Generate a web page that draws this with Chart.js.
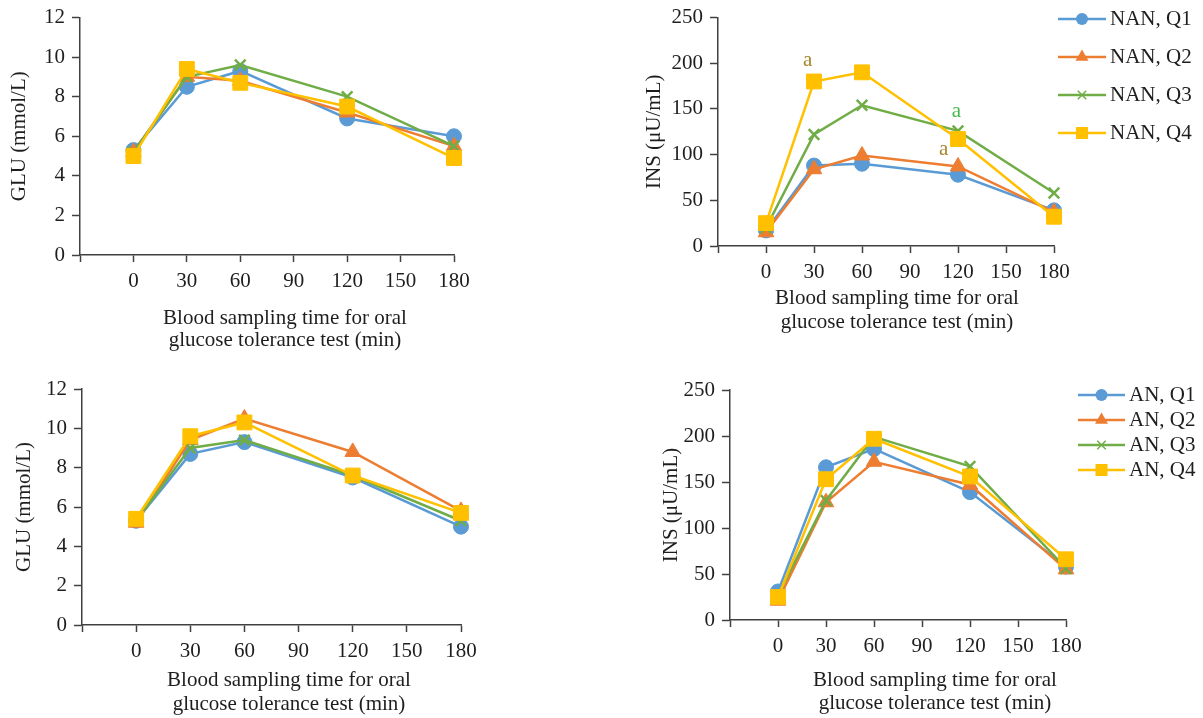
<!DOCTYPE html>
<html><head><meta charset="utf-8">
<script src="https://cdn.jsdelivr.net/npm/chart.js@4.4.0/dist/chart.umd.min.js"></script>
<style>
html,body{margin:0;padding:0;background:#fff;}
#wrap{position:relative;width:1203px;height:718px;overflow:hidden;background:#fff;}
canvas{position:absolute;}
</style></head><body><div id="wrap">
<canvas id="c1" width="600" height="360" style="left:0;top:0"></canvas>
<canvas id="c2" width="603" height="360" style="left:600px;top:0"></canvas>
<canvas id="c3" width="600" height="358" style="left:0;top:360px"></canvas>
<canvas id="c4" width="603" height="358" style="left:600px;top:360px"></canvas>
</div>
<script>
// ---- data ----
const times = [0, 30, 60, 120, 180];
const xTicks = [0, 30, 60, 90, 120, 150, 180];
const gluTicks = [0, 2, 4, 6, 8, 10, 12];
const insTicks = [0, 50, 100, 150, 200, 250];

const gluNAN_Q1 = [5.3, 8.5, 9.3, 6.9, 6.0];
const gluNAN_Q2 = [5.2, 9.0, 8.8, 7.2, 5.5];
const gluNAN_Q3 = [5.2, 9.0, 9.6, 8.0, 5.5];
const gluNAN_Q4 = [5.0, 9.4, 8.7, 7.5, 4.9];

const insNAN_Q1 = [17, 88, 90, 78, 39];
const insNAN_Q2 = [15, 84, 99, 87, 37];
const insNAN_Q3 = [20, 122, 154, 126, 58];
const insNAN_Q4 = [25, 180, 190, 117, 32];

const gluAN_Q1 = [5.3, 8.7, 9.3, 7.5, 5.0];
const gluAN_Q2 = [5.2, 9.4, 10.5, 8.8, 5.8];
const gluAN_Q3 = [5.3, 9.0, 9.4, 7.6, 5.3];
const gluAN_Q4 = [5.4, 9.6, 10.3, 7.6, 5.7];

const insAN_Q1 = [31, 166, 186, 139, 58];
const insAN_Q2 = [21, 128, 172, 147, 55];
const insAN_Q3 = [27, 130, 199, 167, 56];
const insAN_Q4 = [25, 153, 197, 156, 66];

const nanLabels = ['NAN, Q1', 'NAN, Q2', 'NAN, Q3', 'NAN, Q4'];
const anLabels = ['AN, Q1', 'AN, Q2', 'AN, Q3', 'AN, Q4'];

const noteText = ['a', 'a', 'a'];
const noteX = [26, 119, 111];
const noteY = [203, 147, 106];
const noteColors = ['#a8862a', '#44b84c', '#a8862a'];

const xTitle = ['Blood sampling time for oral', 'glucose tolerance test (min)'];
const gluTitle = 'GLU (mmol/L)';
const insTitle = 'INS (\u03bcU/mL)';

// ---- styles ----
const colors = ['#5b9bd5', '#ed7d31', '#70ad47', '#ffc000'];
const pStyles = ['circle', 'triangle', 'crossRot', 'rect'];
const pRadius = [7.5, 9, 7.5, 10.5];
const legRadius = [6, 7.5, 6, 8.5];
const FONT = "'Liberation Serif', 'Times New Roman', serif";
const FS = 21;
const AXIS = '#404040';
const TXT = '#1e1e1e';

Chart.defaults.font.family = FONT;
Chart.defaults.font.size = FS;
Chart.defaults.color = TXT;

function drawMarker(ctx, style, x, y, r, color) {
  ctx.save();
  ctx.fillStyle = color; ctx.strokeStyle = color; ctx.lineWidth = 1.5;
  ctx.beginPath();
  if (style === 'circle') { ctx.arc(x, y, r, 0, Math.PI * 2); ctx.fill(); }
  else if (style === 'triangle') {
    for (let k = 0; k < 3; k++) {
      const a = -Math.PI / 2 + k * 2 * Math.PI / 3;
      const px = x + Math.cos(a) * r, py = y + Math.sin(a) * r;
      if (k === 0) ctx.moveTo(px, py); else ctx.lineTo(px, py);
    }
    ctx.closePath(); ctx.fill();
  } else if (style === 'rect') {
    const s = r * Math.SQRT1_2; ctx.rect(x - s, y - s, 2 * s, 2 * s); ctx.fill();
  } else if (style === 'crossRot') {
    const s = r * Math.SQRT1_2;
    ctx.moveTo(x - s, y - s); ctx.lineTo(x + s, y + s);
    ctx.moveTo(x + s, y - s); ctx.lineTo(x - s, y + s); ctx.stroke();
  }
  ctx.restore();
}

const extras = {
  id: 'extras',
  afterDraw(chart, args, o) {
    const ctx = chart.ctx;
    ctx.save();
    ctx.font = FS + 'px ' + FONT;
    ctx.fillStyle = TXT; ctx.textAlign = 'center'; ctx.textBaseline = 'middle';
    o.xTitle.forEach((line, k) => ctx.fillText(line, o.xtX, o.xtY + k * o.xtLH));
    if (o.notes) {
      const xs = chart.scales.x, ys = chart.scales.y;
      o.notes.text.forEach((t, k) => {
        ctx.fillStyle = o.notes.colors[k];
        ctx.fillText(t, xs.getPixelForValue(o.notes.x[k]), ys.getPixelForValue(o.notes.y[k]));
      });
    }
    if (o.legend) {
      const L = o.legend;
      chart.data.datasets.forEach((d, i) => {
        const y = L.y0 + i * L.dy;
        ctx.strokeStyle = colors[i]; ctx.lineWidth = 2.5;
        ctx.beginPath(); ctx.moveTo(L.x0, y); ctx.lineTo(L.x1, y); ctx.stroke();
        drawMarker(ctx, pStyles[i], (L.x0 + L.x1) / 2, y, legRadius[i], colors[i]);
        ctx.fillStyle = TXT; ctx.textAlign = 'left';
        ctx.fillText(d.label, L.tx, y);
      });
    }
    ctx.restore();
  }
};

function makeChart(id, series, labels, yTicks, yTitleText, lay) {
  const datasets = series.map((vals, i) => ({
    label: labels[i],
    data: times.map((t, k) => ({ x: t, y: vals[k] })),
    borderColor: colors[i],
    backgroundColor: colors[i],
    borderWidth: 2.5,
    pointStyle: pStyles[i],
    pointRadius: pRadius[i],
    pointHoverRadius: pRadius[i],
    pointBorderWidth: i === 2 ? 2.5 : 1,
    tension: 0,
    clip: false,
    order: 4 - i
  }));
  return new Chart(document.getElementById(id), {
    type: 'line',
    data: { datasets },
    options: {
      responsive: false, animation: false,
      layout: { padding: lay.pad },
      plugins: { legend: { display: false }, tooltip: { enabled: false },
        extras: { xTitle, xtX: lay.xtX, xtY: lay.xtY, xtLH: lay.xtLH, notes: lay.notes, legend: lay.legend } },
      scales: {
        x: {
          type: 'linear', min: -30, max: 180,
          afterBuildTicks: s => { s.ticks = [-30].concat(xTicks).map(v => ({ value: v })); },
          afterFit: s => { s.height = lay.xH; },
          ticks: { callback: v => (v < 0 ? '' : String(v)), padding: 7, maxRotation: 0, autoSkip: false, color: TXT },
          grid: { drawOnChartArea: false, color: AXIS, tickLength: 7, tickWidth: 1.5 },
          border: { color: AXIS, width: 1.5 }
        },
        y: {
          type: 'linear', min: yTicks[0], max: yTicks[yTicks.length - 1],
          afterBuildTicks: s => { s.ticks = yTicks.map(v => ({ value: v })); },
          afterFit: s => { s.width = lay.yW; },
          ticks: { padding: 7, color: TXT, font: { size: FS, lineHeight: 1 } },
          grid: { drawOnChartArea: false, color: AXIS, tickLength: 8, tickWidth: 1.5 },
          border: { color: AXIS, width: 1.5 },
          title: { display: true, text: yTitleText, padding: 0, color: TXT, font: { size: FS } }
        }
      }
    },
    plugins: [extras]
  });
}

makeChart('c1', [gluNAN_Q1, gluNAN_Q2, gluNAN_Q3, gluNAN_Q4], nanLabels, gluTicks, gluTitle,
  { pad: { left: 7, top: 15, right: 146, bottom: 0 }, yW: 73, xH: 105, xtX: 285, xtY: 318, xtLH: 22 });

makeChart('c2', [insNAN_Q1, insNAN_Q2, insNAN_Q3, insNAN_Q4], nanLabels, insTicks, insTitle,
  { pad: { left: 42, top: 14, right: 149, bottom: 0 }, yW: 76, xH: 114, xtX: 297, xtY: 298, xtLH: 24,
    notes: { text: noteText, x: noteX, y: noteY, colors: noteColors },
    legend: { x0: 458, x1: 506, tx: 510, y0: 19, dy: 38 } });

makeChart('c3', [gluAN_Q1, gluAN_Q2, gluAN_Q3, gluAN_Q4], anLabels, gluTicks, gluTitle,
  { pad: { left: 12, top: 29, right: 139, bottom: 0 }, yW: 70, xH: 93, xtX: 289, xtY: 320, xtLH: 24 });

makeChart('c4', [insAN_Q1, insAN_Q2, insAN_Q3, insAN_Q4], anLabels, insTicks, insTitle,
  { pad: { left: 59, top: 30, right: 137, bottom: 0 }, yW: 71, xH: 98, xtX: 335, xtY: 320, xtLH: 23,
    legend: { x0: 478, x1: 525, tx: 529, y0: 35, dy: 25 } });
</script>
</body></html>
